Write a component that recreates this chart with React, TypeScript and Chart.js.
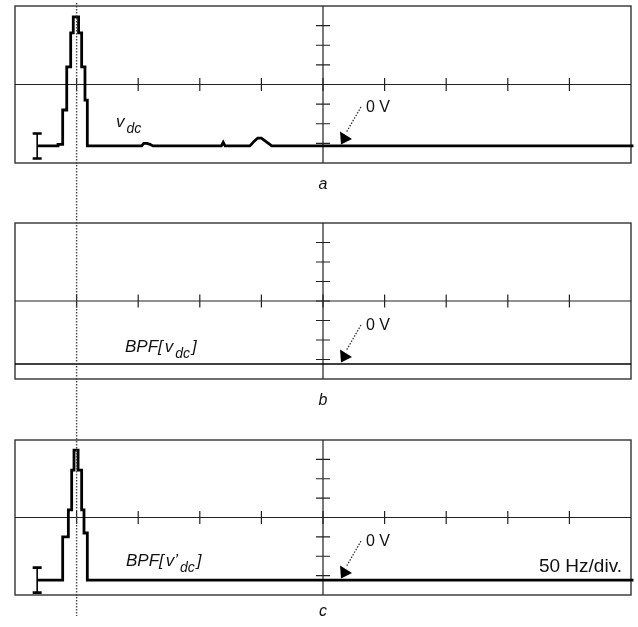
import React, { useEffect, useRef } from 'react';
import { Chart, registerables } from 'chart.js';

Chart.register(...registerables);

// Frequency axis: 0..500 Hz, 50 Hz/div (10 divisions); level axis: 8 divisions
const FREQ_MIN = 0;
const FREQ_MAX = 500;
const LEVEL_MIN = 0;
const LEVEL_MAX = 8;
const FREQ_TICKS = [50, 100, 150, 200, 250, 300, 350, 400, 450];
const LEVEL_TICKS = [1, 2, 3, 4, 5, 6, 7];
const CENTER_HZ = 250;
const CENTER_LEVEL = 4;
const CURSOR_HZ = 50;
const MARKER_HZ = 18.4;

// Panel a: v_dc spectrum
const aHz = [18.4, 34.9, 34.9, 38.7, 38.7, 42.0, 42.0, 45.2, 45.2, 47.3, 47.3, 51.6, 51.6, 54.1, 54.1, 56.8, 56.8, 58.7, 58.7,
  102.8, 104.5, 107.0, 109.6, 112.0, 167.5, 169.0, 170.5, 190.7, 194.0, 197.0, 200.0, 203.5, 208.4, 502];
const aLevel = [0.87, 0.87, 0.95, 0.95, 2.7, 2.7, 4.9, 4.9, 6.63, 6.63, 7.45, 7.45, 6.63, 6.63, 4.9, 4.9, 3.2, 3.2, 0.87,
  0.87, 1.0, 1.0, 0.95, 0.87, 0.87, 1.05, 0.87, 0.87, 1.1, 1.27, 1.27, 1.1, 0.87, 0.87];

// Panel b: BPF[v_dc]
const bHz = [0, 500];
const bLevel = [0.77, 0.77];

// Panel c: BPF[v'_dc]
const cHz = [18.4, 38.7, 38.7, 43.3, 43.3, 46.0, 46.0, 47.9, 47.9, 51.2, 51.2, 54.1, 54.1, 56.0, 56.0, 58.7, 58.7, 502];
const cLevel = [0.77, 0.77, 3.0, 3.0, 4.39, 4.39, 6.45, 6.45, 7.48, 7.48, 6.45, 6.45, 4.39, 4.39, 3.2, 3.2, 0.77, 0.77];

const FONT = '"Liberation Sans", Arial, Helvetica, sans-serif';

type Part = { t: string; sub?: boolean };

type PanelCfg = {
  letter: string;
  hz: number[];
  level: number[];
  lineWidth: number;
  height: number;
  padTop: number;
  padBottom: number;
  marker: boolean;
  labelParts: Part[];
  labelDx: number;
  labelBaseline: number;
  letterDy: number;
  dotTop: number;
  dotBottom: number;
  scaleNote?: string;
  traceLevel: number;
};

const PANELS: PanelCfg[] = [
  {
    letter: 'a', hz: aHz, level: aLevel, lineWidth: 2.8, height: 210, padTop: 6, padBottom: 47,
    marker: true, labelParts: [{ t: 'v' }, { t: 'dc', sub: true }], labelDx: 101, labelBaseline: 121,
    letterDy: 22, dotTop: 3, dotBottom: 210, traceLevel: 0.87,
  },
  {
    letter: 'b', hz: bHz, level: bLevel, lineWidth: 1.5, height: 210, padTop: 13, padBottom: 41,
    marker: false, labelParts: [{ t: 'BPF[' }, { t: 'v' }, { t: 'dc', sub: true }, { t: ']' }], labelDx: 110, labelBaseline: 129,
    letterDy: 22, dotTop: 0, dotBottom: 210, traceLevel: 0.77,
  },
  {
    letter: 'c', hz: cHz, level: cLevel, lineWidth: 2.8, height: 207, padTop: 20, padBottom: 32,
    marker: true, labelParts: [{ t: 'BPF[' }, { t: 'v’' }, { t: 'dc', sub: true }, { t: ']' }], labelDx: 111, labelBaseline: 126,
    letterDy: 17, dotTop: 0, dotBottom: 196, scaleNote: '50 Hz/div.', traceLevel: 0.77,
  },
];

function makePlugin(cfg: PanelCfg) {
  return {
    id: 'scope' + cfg.letter,
    beforeDatasetsDraw(chart: any) {
      const { ctx, chartArea: a, scales } = chart;
      const x = scales.x, y = scales.y;
      ctx.save();
      ctx.strokeStyle = '#333';
      ctx.lineWidth = 1.4;
      ctx.strokeRect(a.left, a.top, a.right - a.left, a.bottom - a.top);
      const cx = x.getPixelForValue(CENTER_HZ);
      const cy = y.getPixelForValue(CENTER_LEVEL);
      ctx.strokeStyle = '#222';
      ctx.lineWidth = 1.2;
      ctx.beginPath();
      ctx.moveTo(a.left, cy); ctx.lineTo(a.right, cy);
      ctx.moveTo(cx, a.top); ctx.lineTo(cx, a.bottom);
      ctx.stroke();
      ctx.lineWidth = 1.2;
      ctx.beginPath();
      FREQ_TICKS.forEach((f) => {
        const px = x.getPixelForValue(f);
        ctx.moveTo(px, cy - 6.5); ctx.lineTo(px, cy + 6.5);
      });
      LEVEL_TICKS.forEach((l) => {
        const py = y.getPixelForValue(l);
        ctx.moveTo(cx - 7, py); ctx.lineTo(cx + 7, py);
      });
      ctx.stroke();
      ctx.restore();
    },
    afterDatasetsDraw(chart: any) {
      const { ctx, chartArea: a, scales } = chart;
      const x = scales.x, y = scales.y;
      const cx = x.getPixelForValue(CENTER_HZ);
      const ty = y.getPixelForValue(cfg.traceLevel);
      ctx.save();
      const dx = x.getPixelForValue(CURSOR_HZ);
      ctx.strokeStyle = '#444';
      ctx.lineWidth = 1.4;
      ctx.setLineDash([1.5, 1.5]);
      ctx.beginPath();
      ctx.moveTo(dx, cfg.dotTop); ctx.lineTo(dx, cfg.dotBottom);
      ctx.stroke();
      ctx.setLineDash([]);

      if (cfg.marker) {
        const mx = x.getPixelForValue(MARKER_HZ) - 0.5;
        ctx.strokeStyle = '#000';
        ctx.lineWidth = 1.6;
        ctx.beginPath();
        ctx.moveTo(mx, ty - 12); ctx.lineTo(mx, ty + 12);
        ctx.stroke();
        ctx.lineWidth = 2.6;
        ctx.beginPath();
        ctx.moveTo(mx - 4.5, ty - 12.5); ctx.lineTo(mx + 4.5, ty - 12.5);
        ctx.moveTo(mx - 4.5, ty + 12.5); ctx.lineTo(mx + 4.5, ty + 12.5);
        ctx.stroke();
      }

      ctx.fillStyle = '#111';
      ctx.font = `16px ${FONT}`;
      ctx.textBaseline = 'alphabetic';
      ctx.textAlign = 'left';
      ctx.fillText('0 V', cx + 43, ty - 34);
      ctx.strokeStyle = '#333';
      ctx.lineWidth = 1.3;
      ctx.setLineDash([1.5, 1.5]);
      ctx.beginPath();
      ctx.moveTo(cx + 38, ty - 39); ctx.lineTo(cx + 23, ty - 13);
      ctx.stroke();
      ctx.setLineDash([]);
      ctx.fillStyle = '#000';
      ctx.beginPath();
      ctx.moveTo(cx + 17, ty - 14.5);
      ctx.lineTo(cx + 18, ty - 1.5);
      ctx.lineTo(cx + 29, ty - 7);
      ctx.closePath();
      ctx.fill();

      let px = a.left + cfg.labelDx;
      const base = a.top + cfg.labelBaseline;
      ctx.fillStyle = '#111';
      cfg.labelParts.forEach((p) => {
        ctx.font = p.sub ? `italic 14px ${FONT}` : `italic 17px ${FONT}`;
        const yy = p.sub ? base + 6 : base;
        ctx.fillText(p.t, px, yy);
        px += ctx.measureText(p.t).width + (p.sub ? 2 : 2);
      });

      if (cfg.scaleNote) {
        ctx.font = `19px ${FONT}`;
        ctx.textAlign = 'right';
        ctx.fillText(cfg.scaleNote, a.right - 9, ty - 8);
      }

      ctx.font = `italic 16px ${FONT}`;
      ctx.textAlign = 'center';
      ctx.textBaseline = 'middle';
      ctx.fillText(cfg.letter, cx, a.bottom + cfg.letterDy);
      ctx.restore();
    },
  };
}

function Panel({ cfg }: { cfg: PanelCfg }) {
  const ref = useRef<HTMLCanvasElement | null>(null);
  useEffect(() => {
    if (!ref.current) return;
    const chart = new Chart(ref.current, {
      type: 'line',
      data: {
        datasets: [
          {
            data: cfg.hz.map((f, i) => ({ x: f, y: cfg.level[i] })),
            borderColor: '#000',
            borderWidth: cfg.lineWidth,
            pointRadius: 0,
            tension: 0,
            fill: false,
            clip: false as any,
            borderJoinStyle: 'miter',
            borderCapStyle: 'butt',
          },
        ],
      },
      options: {
        responsive: false,
        maintainAspectRatio: false,
        animation: false,
        devicePixelRatio: 1,
        layout: { padding: { left: 15, right: 7, top: cfg.padTop, bottom: cfg.padBottom } },
        scales: {
          x: { type: 'linear', min: FREQ_MIN, max: FREQ_MAX, display: false },
          y: { type: 'linear', min: LEVEL_MIN, max: LEVEL_MAX, display: false },
        },
        plugins: { legend: { display: false }, tooltip: { enabled: false } },
        events: [],
      },
      plugins: [makePlugin(cfg)],
    } as any);
    return () => chart.destroy();
  }, [cfg]);
  return <canvas ref={ref} width={638} height={cfg.height} style={{ display: 'block', width: 638, height: cfg.height }} />;
}

export default function App() {
  return (
    <div style={{ position: 'fixed', left: 0, top: 0, width: 638, height: 627, background: '#fff' }}>
      {PANELS.map((p) => (
        <Panel key={p.letter} cfg={p} />
      ))}
    </div>
  );
}
